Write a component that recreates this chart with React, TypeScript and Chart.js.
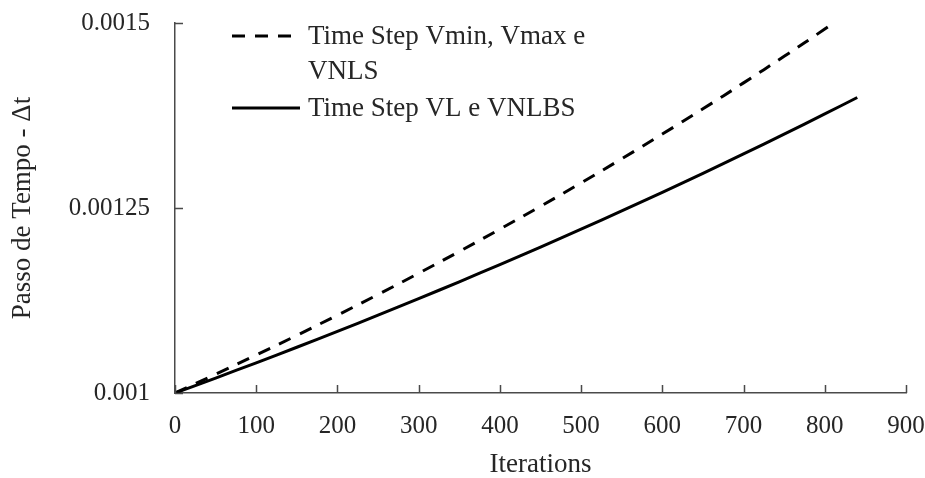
import React, { useEffect, useRef } from "react";
import { Chart, registerables } from "chart.js";

Chart.register(...registerables);

const iterations = [0, 50, 100, 150, 200, 250, 300, 350, 400, 450, 500, 550, 600, 650, 700, 750, 800, 840];
const dtVminVmaxVnls = [
  0.001, 0.0010253, 0.0010513, 0.0010779, 0.0011052, 0.0011331, 0.0011618, 0.0011912, 0.0012214,
  0.0012523, 0.001284, 0.0013165, 0.0013499, 0.001384, 0.0014191, 0.001455, 0.0014918, 0.001522,
];
const dtVlVnlbs = [
  0.001, 0.0010202, 0.0010408, 0.0010618, 0.0010833, 0.0011052, 0.0011275, 0.0011503, 0.0011735,
  0.0011972, 0.0012214, 0.0012461, 0.0012712, 0.0012969, 0.0013231, 0.0013499, 0.0013771, 0.0013993,
];
const seriesLabels = ["Time Step Vmin, Vmax e VNLS", "Time Step VL e VNLBS"];
const xTicks = [0, 100, 200, 300, 400, 500, 600, 700, 800, 900];
const yTicks = [0.001, 0.00125, 0.0015];
const yTickLabels = ["0.001", "0.00125", "0.0015"];

const FONT = "'Liberation Serif', 'Times New Roman', serif";
const TEXT = "#262626";
const AXIS = "#4a4a4a";

const tickMarks = {
  id: "tickMarks",
  afterDraw(chart: any) {
    const { ctx, chartArea } = chart;
    const xs = chart.scales.x;
    const ys = chart.scales.y;
    ctx.save();
    ctx.strokeStyle = AXIS;
    ctx.lineWidth = 1.5;
    ctx.beginPath();
    xTicks.forEach((v) => {
      const px = Math.round(xs.getPixelForValue(v)) + 0.5;
      ctx.moveTo(px, chartArea.bottom);
      ctx.lineTo(px, chartArea.bottom - 8);
    });
    yTicks.forEach((v) => {
      const py = Math.round(ys.getPixelForValue(v)) + 0.5;
      ctx.moveTo(chartArea.left, py);
      ctx.lineTo(chartArea.left + 8, py);
    });
    ctx.stroke();
    ctx.restore();
  },
};

const boxLegend = {
  id: "boxLegend",
  afterDraw(chart: any) {
    const { ctx, chartArea } = chart;
    const x0 = chartArea.left + 57;
    const x1 = chartArea.left + 125;
    const tx = chartArea.left + 133;
    const lineGap = 35;
    let y = chartArea.top + 13;
    ctx.save();
    ctx.font = `27px ${FONT}`;
    ctx.fillStyle = TEXT;
    ctx.textBaseline = "middle";
    ctx.textAlign = "left";
    chart.data.datasets.forEach((ds: any) => {
      ctx.strokeStyle = ds.borderColor;
      ctx.lineWidth = 3;
      ctx.setLineDash(ds.borderDash || []);
      ctx.beginPath();
      ctx.moveTo(x0, y);
      ctx.lineTo(x1, y);
      ctx.stroke();
      ctx.setLineDash([]);
      const words = String(ds.label).split(" ");
      const lines: string[] = [];
      let cur = "";
      words.forEach((w) => {
        const t = cur ? cur + " " + w : w;
        if (ctx.measureText(t).width > 300 && cur) {
          lines.push(cur);
          cur = w;
        } else cur = t;
      });
      if (cur) lines.push(cur);
      lines.forEach((l, i) => ctx.fillText(l, tx, y + 1 + i * lineGap));
      y += lines.length * lineGap + 2;
    });
    ctx.restore();
  },
};

export default function App() {
  const ref = useRef<HTMLCanvasElement>(null);
  useEffect(() => {
    if (!ref.current) return;
    const chart = new Chart(ref.current, {
      type: "line",
      data: {
        datasets: [
          {
            label: seriesLabels[0],
            data: iterations.map((x, i) => ({ x, y: dtVminVmaxVnls[i] })),
            borderColor: "#000000",
            borderWidth: 3,
            borderDash: [13, 10],
            pointRadius: 0,
            tension: 0.4,
            fill: false,
          },
          {
            label: seriesLabels[1],
            data: iterations.map((x, i) => ({ x, y: dtVlVnlbs[i] })),
            borderColor: "#000000",
            borderWidth: 3,
            pointRadius: 0,
            tension: 0.4,
            fill: false,
          },
        ],
      },
      options: {
        responsive: false,
        animation: false,
        devicePixelRatio: 1,
        layout: { padding: { top: 23, right: 19, left: 0, bottom: 0 } },
        plugins: { legend: { display: false }, tooltip: { enabled: false } },
        scales: {
          x: {
            type: "linear",
            min: 0,
            max: 900,
            afterBuildTicks: (s: any) => {
              s.ticks = xTicks.map((v) => ({ value: v }));
            },
            afterFit: (s: any) => {
              s.height = 85;
              s.paddingLeft = 0;
              s.paddingRight = 0;
            },
            grid: { display: false, drawTicks: false },
            border: { display: true, color: AXIS, width: 1.5 },
            ticks: { font: { family: FONT, size: 25 }, color: TEXT, padding: 18, maxRotation: 0 },
            title: {
              display: true,
              text: "Iterations",
              font: { family: FONT, size: 27, lineHeight: 1 },
              color: TEXT,
              padding: { top: 0, bottom: 0 },
            },
          },
          y: {
            type: "linear",
            min: 0.001,
            max: 0.0015,
            afterBuildTicks: (s: any) => {
              s.ticks = yTicks.map((v) => ({ value: v }));
            },
            afterFit: (s: any) => {
              s.width = 175;
              s.paddingTop = 0;
              s.paddingBottom = 0;
            },
            grid: { display: false, drawTicks: false },
            border: { display: true, color: AXIS, width: 1.5 },
            ticks: {
              font: { family: FONT, size: 25 },
              color: TEXT,
              padding: 25,
              callback: (v: any) => {
                const i = yTicks.findIndex((t) => Math.abs(t - Number(v)) < 1e-9);
                return i >= 0 ? yTickLabels[i] : "";
              },
            },
            title: {
              display: true,
              text: "Passo de Tempo - Δt",
              font: { family: FONT, size: 27, lineHeight: 1.2 },
              color: TEXT,
              padding: { top: 7, bottom: 0 },
            },
          },
        },
      },
      plugins: [tickMarks, boxLegend],
    });
    return () => chart.destroy();
  }, []);
  return (
    <div style={{ position: "fixed", left: 0, top: 0, width: 925, height: 478, background: "#fff" }}>
      <canvas ref={ref} width={925} height={478} style={{ display: "block" }} />
    </div>
  );
}
